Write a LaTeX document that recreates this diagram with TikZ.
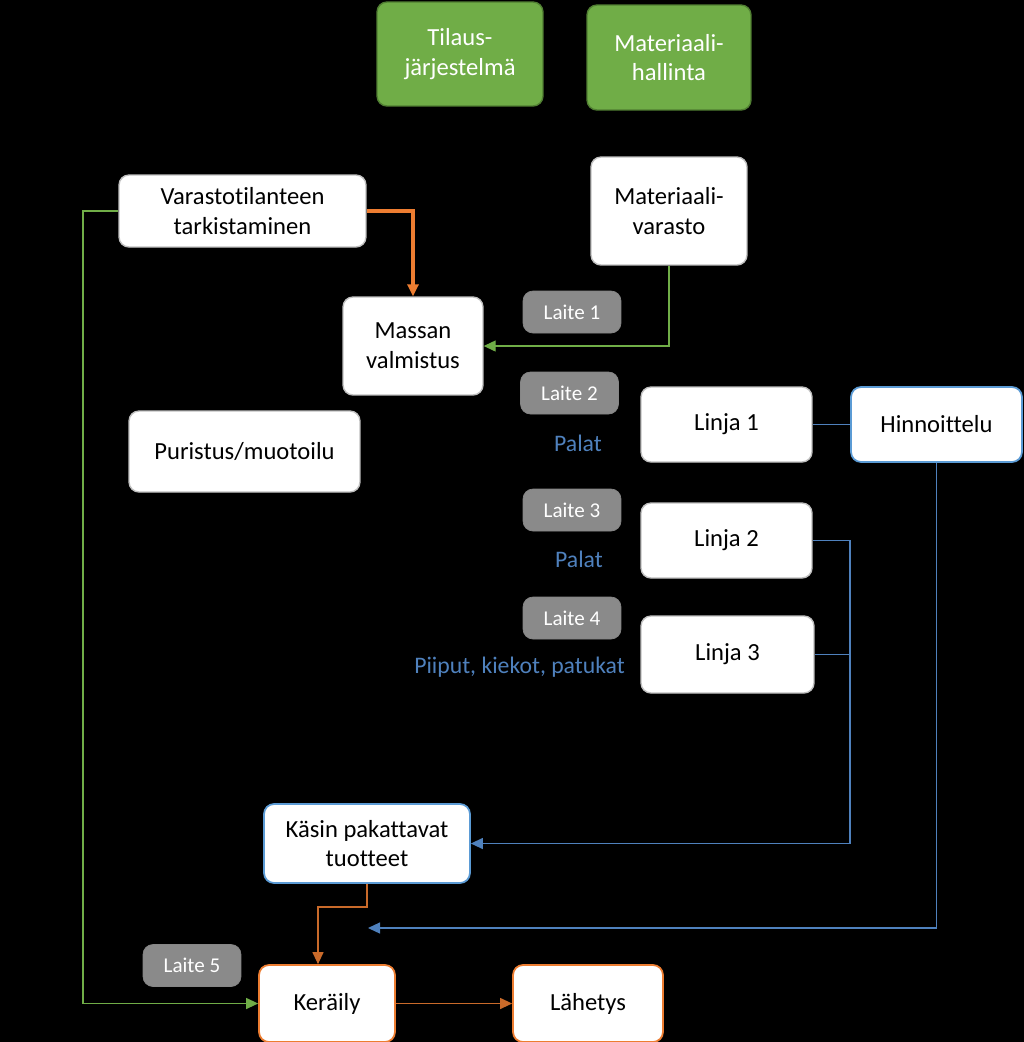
\documentclass[tikz,border=0pt]{standalone}
\usepackage{fontspec}
\setmainfont{Carlito}[Ligatures={NoCommon}]
\usetikzlibrary{arrows.meta}
\definecolor{grn}{HTML}{70AD47}
\definecolor{grndark}{HTML}{507E32}
\definecolor{org}{HTML}{ED7D31}
\definecolor{blu}{HTML}{5B9BD5}
\definecolor{bluline}{HTML}{4F81BD}
\definecolor{laitegray}{HTML}{8A8A8A}
\definecolor{edgegray}{HTML}{BFBFBF}

\begin{document}
\begin{tikzpicture}[x=0.02cm, y=-0.02cm,
    every node/.style = {align=center, rounded corners=2mm, inner sep=1mm,
                         font=\fontsize{14}{17}\selectfont},
    box/.style = {draw=edgegray, fill=white, line width=0.8pt},
    sysbox/.style = {draw=grndark, fill=grn, text=white, line width=0.8pt},
    laite/.style = {draw=edgegray!70!black, fill=laitegray, text=white,
                    minimum width=1.96cm, minimum height=0.84cm,
                    font=\fontsize{12}{14}\selectfont},
    tuote/.style = {draw=none, fill=none, text=bluline, font=\fontsize{13.5}{16}\selectfont},
    tip/.style = {-{Triangle[length=0.24cm, width=0.22cm]}}]
\fill[black] (0,0) rectangle (1024,1042);
\useasboundingbox (0,0) rectangle (1024,1042);

\node (tilaus) [sysbox, minimum width=3.32cm, minimum height=2.08cm] at (460,54) {Tilaus-\\järjestelmä};
\node (mathall) [sysbox, minimum width=3.28cm, minimum height=2.10cm] at (669,57.5) {Materiaali-\\hallinta};

\node (varasto) [box, minimum width=4.94cm, minimum height=1.44cm] at (242.5,211) {Varastotilanteen\\tarkistaminen};
\node (matvar) [box, minimum width=3.12cm, minimum height=2.16cm] at (669,211) {Materiaali-\\varasto};
\node (massa) [box, minimum width=2.80cm, minimum height=1.96cm] at (413,346) {Massan\\valmistus};
\node (puristus) [box, minimum width=4.62cm, minimum height=1.62cm] at (244.5,451.5) {Puristus/muotoilu};

\node (laite1) [laite] at (572,312) {Laite 1};
\node (laite2) [laite] at (569.5,393) {Laite 2};
\node (laite3) [laite] at (572,510) {Laite 3};
\node (laite4) [laite] at (572,618) {Laite 4};
\node (laite5) [laite] at (192,965.5) {Laite 5};

\node (palat1) [tuote] at (578,443) {Palat};
\node (palat2) [tuote] at (579,559) {Palat};
\node (piiput) [tuote] at (519.5,667) {Piiput, kiekot, patukat};

\node (linja1) [box, minimum width=3.42cm, minimum height=1.50cm] at (726.5,424.5) {Linja 1};
\node (linja2) [box, minimum width=3.42cm, minimum height=1.50cm] at (726.5,540.5) {Linja 2};
\node (linja3) [box, minimum width=3.46cm, minimum height=1.54cm] at (727.5,654.5) {Linja 3};
\node (hinta) [box, draw=blu, line width=1pt, minimum width=3.42cm, minimum height=1.50cm] at (936.5,424.5) {Hinnoittelu};

\node (kasin) [box, draw=blu, line width=1pt, minimum width=4.12cm, minimum height=1.58cm] at (367,843.5) {Käsin pakattavat\\tuotteet};
\node (kerailu) [box, draw=org, line width=1pt, minimum width=2.72cm, minimum height=1.54cm] at (327,1003.5) {Keräily};
\node (lahetys) [box, draw=org, line width=1pt, minimum width=3.00cm, minimum height=1.54cm] at (588,1003.5) {Lähetys};

\coordinate (hintaend) at (368,928);

\draw [tip, org, line width=1.8pt] (varasto.east) -| (massa.north);
\draw [tip, grn, line width=0.7pt] (matvar.south) |- (massa.east);
\draw [tip, grn, line width=0.7pt] (varasto.west) -- (83,211) |- (kerailu.west);

\draw [bluline, line width=0.7pt] (linja1.east) -- (hinta.west);
\draw [tip, bluline, line width=0.7pt] (linja2.east) -- (850,540.5) |- (kasin.east);
\draw [bluline, line width=0.7pt] (linja3.east) -- (850,654.5);
\draw [tip, bluline, line width=0.7pt] (hinta.south) |- (hintaend);

\draw [tip, org!85!black, line width=0.7pt] (kasin.south) |- (318,907) -- (318,0 |- kerailu.north);
\draw [tip, org!85!black, line width=0.7pt] (kerailu.east) -- (lahetys.west);

\end{tikzpicture}
\end{document}
